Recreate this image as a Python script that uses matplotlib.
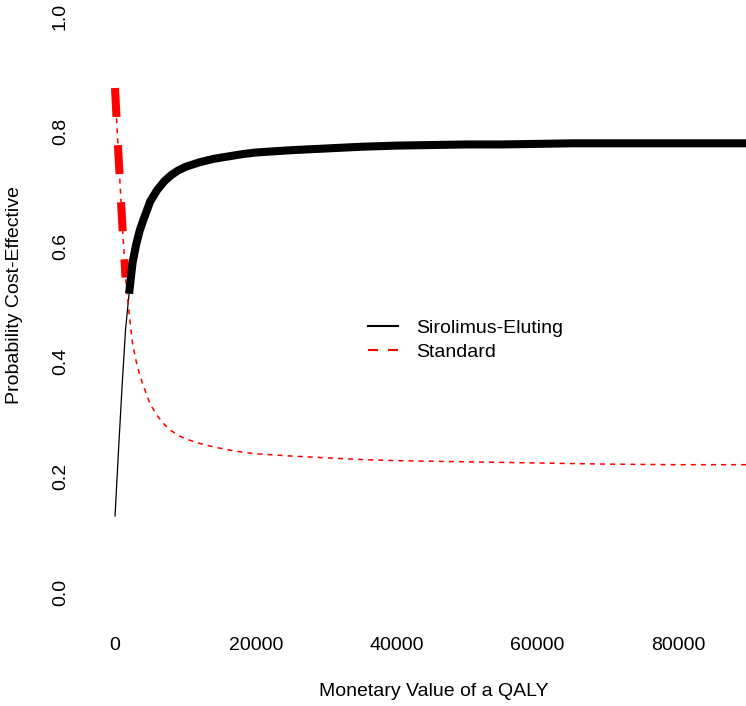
import matplotlib
matplotlib.use("Agg")
import matplotlib.pyplot as plt
from matplotlib.lines import Line2D
import numpy as np

plt.rcParams['font.family'] = ['Liberation Sans', 'DejaVu Sans']

# ---- data ----
wtp = [0, 500, 1000, 1500, 2000, 2500, 3000, 3500, 4000, 5000, 6000, 7000, 8000,
       9000, 10000, 12000, 14000, 16000, 18000, 20000, 25000, 30000, 35000,
       40000, 45000, 50000, 55000, 60000, 65000, 70000, 80000, 90000]
sirolimus = [0.131, 0.246, 0.356, 0.456, 0.518, 0.572, 0.603, 0.627, 0.645, 0.678,
             0.698, 0.713, 0.724, 0.732, 0.738, 0.746, 0.752, 0.756, 0.760, 0.763,
             0.767, 0.770, 0.773, 0.775, 0.776, 0.777, 0.777, 0.778, 0.779, 0.779,
             0.779, 0.779]
standard = [0.875, 0.757, 0.646, 0.546, 0.484, 0.431, 0.401, 0.377, 0.359, 0.326,
            0.306, 0.291, 0.280, 0.272, 0.266, 0.258, 0.252, 0.247, 0.243, 0.240,
            0.236, 0.233, 0.230, 0.228, 0.227, 0.226, 0.225, 0.224, 0.223, 0.222,
            0.221, 0.221]
series_names = ["Sirolimus-Eluting", "Standard"]
xticks = [0, 20000, 40000, 60000, 80000]
yticks = [0.0, 0.2, 0.4, 0.6, 0.8, 1.0]
xlabel = "Monetary Value of a QALY"
ylabel = "Probability Cost-Effective"

W, H = 746, 706
fig = plt.figure(figsize=(W / 100, H / 100), dpi=100)

# axes placed in pixel space (plot region is cropped at top/right in reference)
ax_left, ax_right, ax_bottom, ax_top = 80, 746, 620, 0
ax = fig.add_axes([ax_left / W, 1 - ax_bottom / H,
                   (ax_right - ax_left) / W, (ax_bottom - ax_top) / H])
# pixel mapping: x=0 -> 115px, 80000 -> 678px ; y=0 -> 592px, 1 -> 16px
x0_px, px_per_x = 115, (678 - 115) / 80000
y0_px, px_per_y = 592, 576
ax.set_xlim((ax_left - x0_px) / px_per_x, (ax_right - x0_px) / px_per_x)
ax.set_ylim((y0_px - ax_bottom) / px_per_y, (y0_px - ax_top) / px_per_y)

x = np.array(wtp, dtype=float)
s = np.array(sirolimus)
t = np.array(standard)

# thin full curves
ax.plot(x, s, color='black', lw=0.9, solid_capstyle='butt')
ax.plot(x, t, color='red', lw=1.1, dashes=(3.3, 3.3))

# thick frontier segments
opt_std = t > s
ax.plot(x[opt_std], t[opt_std], color='red', lw=5.8, dashes=(3.6, 3.5),
        dash_capstyle='butt')
ax.plot(x[~opt_std], s[~opt_std], color='black', lw=5.8, solid_capstyle='butt')

for sp in ax.spines.values():
    sp.set_visible(False)
ax.set_xticks(xticks)
ax.set_xticklabels([str(v) for v in xticks])
ax.set_yticks(yticks)
ax.set_yticklabels([f"{v:.1f}" for v in yticks], rotation=90, va='center')
ax.tick_params(length=0, labelsize=14, colors='black')
ax.tick_params(axis='x', pad=12)
ax.tick_params(axis='y', pad=8)

fig.text(434 / W, 1 - 692 / H, xlabel, ha='center', va='center', fontsize=14)
fig.text(15 / W, 1 - 295 / H, ylabel, ha='center', va='center', fontsize=14,
         rotation=90)

handles = [Line2D([], [], color='black', lw=1.5),
           Line2D([], [], color='red', lw=1.5, dashes=(4.8, 4.8))]
leg = ax.legend(handles, series_names, loc='upper left', frameon=False,
                bbox_to_anchor=(368 / W, 1 - 319 / H), bbox_transform=fig.transFigure,
                fontsize=14, handlelength=1.55, handletextpad=0.9,
                labelspacing=0.35, borderpad=0, borderaxespad=0)

fig.savefig("out.png", dpi=100)
